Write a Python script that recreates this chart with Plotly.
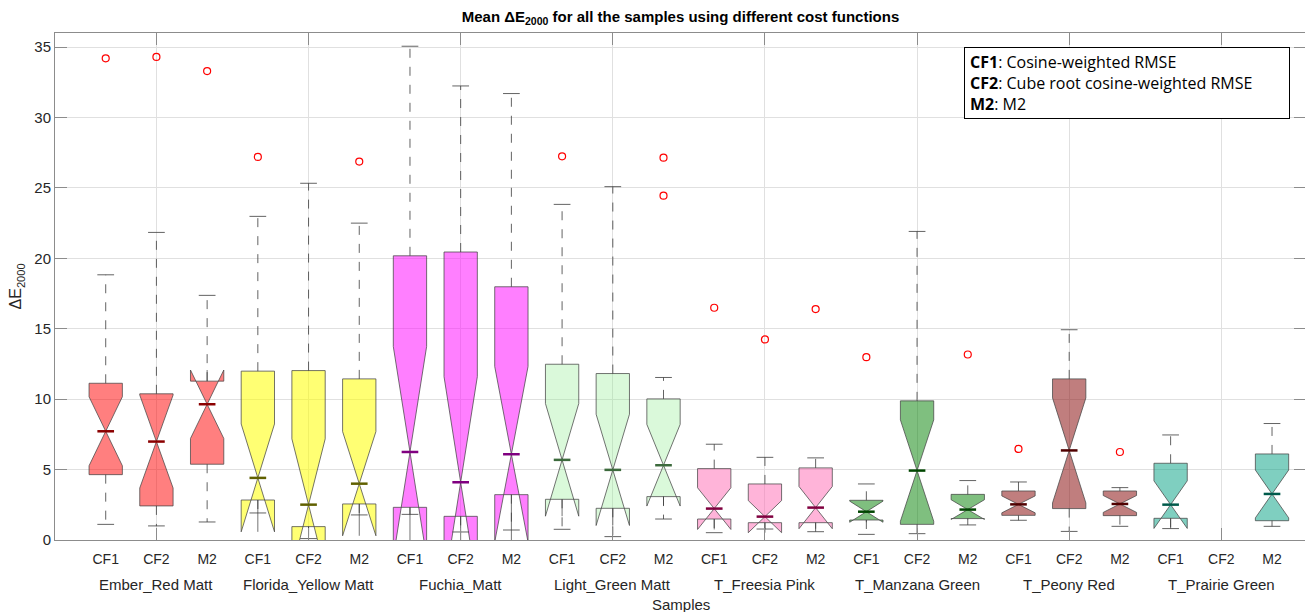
import plotly.graph_objects as go

# ---------------- data ----------------
samples = ["Ember_Red Matt", "Florida_Yellow Matt", "Fuchia_Matt", "Light_Green Matt",
           "T_Freesia Pink", "T_Manzana Green", "T_Peony Red", "T_Prairie Green"]
methods = ["CF1", "CF2", "M2"]

q1 = [4.64, 2.42, 5.38, 2.84, 0.95, 2.56, 2.32, 1.68, 3.22, 2.89, 2.25, 3.08,
      1.49, 1.23, 1.23, 1.42, 1.11, 1.52, 1.75, 2.23, 1.73, 1.54, None, 1.37]
med = [7.72, 6.99, 9.64, 4.41, 2.51, 4.00, 6.25, 4.10, 6.09, 5.69, 4.98, 5.31,
       2.23, 1.66, 2.30, 2.01, 4.93, 2.16, 2.53, 6.36, 2.56, 2.51, None, 3.27]
q3 = [11.13, 10.38, 11.28, 11.99, 12.03, 11.44, 20.18, 20.45, 17.98, 12.48, 11.82, 10.02,
      5.07, 3.98, 5.12, 2.82, 9.88, 3.24, 3.48, 11.44, 3.48, 5.45, None, 6.11]
lower_whisker = [1.11, 1.00, 1.28, 1.92, 0.10, 1.78, 1.82, 0.57, 0.71, 0.76, 0.24, 1.49,
                 0.52, 0.78, 0.59, 0.40, 0.45, 1.07, 1.40, 0.61, 0.97, 0.81, None, 0.97]
upper_whisker = [18.83, 21.84, 17.37, 22.98, 25.33, 22.50, 35.06, 32.24, 31.70, 23.83, 25.09, 11.54,
                 6.80, 5.87, 5.83, 3.98, 21.91, 4.22, 4.12, 14.93, 3.72, 7.46, None, 8.27]
notch_span = [2.45, 3.30, 2.43, 3.83, 4.67, 3.70, 7.49, 7.50, 6.23, 4.00, 3.95, 2.90,
              1.48, 1.14, 1.50, 0.75, 3.60, 0.70, 0.60, 3.73, 0.60, 1.69, None, 1.70]

outlier_pos = [1, 2, 3, 4, 6, 10, 12, 12, 13, 14, 15, 16, 18, 19, 21]
outlier_val = [34.2, 34.3, 33.3, 27.2, 26.87, 27.24, 27.15, 24.45, 16.49, 14.24, 16.4,
               12.98, 13.17, 6.47, 6.25]

fill_colors = ["rgba(255,0,0,0.5)", "rgba(255,255,0,0.55)", "rgba(255,0,255,0.5)",
               "rgba(144,238,144,0.33)", "rgba(255,105,180,0.5)", "rgba(0,128,0,0.5)",
               "rgba(140,20,20,0.55)", "rgba(0,160,130,0.5)"]
median_colors = ["#8b0000", "#606000", "#800080", "#3c6a3c", "#80003f", "#004600",
                 "#500000", "#005a4b"]

y_ticks = [0, 5, 10, 15, 20, 25, 30, 35]

# ---------------- geometry ----------------
positions = list(range(1, 25))
box_w = 0.657
notch_w = 0.5
cap_w = 0.33
group_centers = [positions[3 * g + 1] for g in range(len(samples))]

fig = go.Figure()

# boxes (drawn first so the scatter layer sits above)
for g in range(len(samples)):
    idx = [i for i in range(3 * g, 3 * g + 3) if med[i] is not None]
    fig.add_trace(go.Box(
        x=[positions[i] for i in idx],
        q1=[q1[i] for i in idx],
        median=[med[i] for i in idx],
        q3=[q3[i] for i in idx],
        lowerfence=[q1[i] for i in idx],
        upperfence=[q3[i] for i in idx],
        notchspan=[notch_span[i] for i in idx],
        notched=True, notchwidth=notch_w, width=box_w,
        whiskerwidth=0, boxpoints=False,
        fillcolor=fill_colors[g],
        line=dict(color="rgba(70,70,70,0.75)", width=1),
        showlegend=False, hoverinfo="skip",
    ))

# whiskers (dashed) and caps
wx, wy, cx, cy = [], [], [], []
for i, p in enumerate(positions):
    if med[i] is None:
        continue
    wx += [p, p, None, p, p, None]
    wy += [q3[i], upper_whisker[i], None, q1[i], lower_whisker[i], None]
    cx += [p - cap_w / 2, p + cap_w / 2, None, p - cap_w / 2, p + cap_w / 2, None]
    cy += [upper_whisker[i], upper_whisker[i], None, lower_whisker[i], lower_whisker[i], None]
fig.add_trace(go.Scatter(x=wx, y=wy, mode="lines",
                         line=dict(color="rgba(60,60,60,0.8)", width=1, dash="dash"),
                         showlegend=False, hoverinfo="skip"))
fig.add_trace(go.Scatter(x=cx, y=cy, mode="lines",
                         line=dict(color="rgba(60,60,60,0.8)", width=1),
                         showlegend=False, hoverinfo="skip"))

# medians
half_n = box_w / 2 * (1 - notch_w)
for g in range(len(samples)):
    mx, my = [], []
    for i in range(3 * g, 3 * g + 3):
        if med[i] is None:
            continue
        mx += [positions[i] - half_n, positions[i] + half_n, None]
        my += [med[i], med[i], None]
    fig.add_trace(go.Scatter(x=mx, y=my, mode="lines",
                             line=dict(color=median_colors[g], width=2.5),
                             showlegend=False, hoverinfo="skip"))

# outliers
fig.add_trace(go.Scatter(x=outlier_pos, y=outlier_val, mode="markers",
                         marker=dict(symbol="circle-open", size=7, color="red",
                                     line=dict(width=1.2, color="red")),
                         showlegend=False, hoverinfo="skip"))

# group labels
for g, name in enumerate(samples):
    fig.add_annotation(x=group_centers[g], y=-0.087, xref="x", yref="paper",
                       text=name, showarrow=False, yanchor="middle",
                       font=dict(size=15, color="#262626"))
fig.add_annotation(x=0.5, y=-0.127, xref="paper", yref="paper", text="Samples",
                   showarrow=False, yanchor="middle", font=dict(size=15, color="#262626"))

# y-axis title
fig.add_annotation(x=-0.0304, y=0.5, xref="paper", yref="paper", text="ΔE<sub>2000</sub>",
                   textangle=-90, showarrow=False, xanchor="center", yanchor="middle",
                   font=dict(size=16, color="#262626"))

# legend-like text box
fig.add_annotation(
    x=0.7266, y=0.972, xref="paper", yref="paper", xanchor="left", yanchor="top",
    text="<b>CF1</b>: Cosine-weighted RMSE<br><b>CF2</b>: Cube root cosine-weighted RMSE<br><b>M2</b>: M2",
    align="left", valign="middle", width=314, height=60,
    showarrow=False, bordercolor="black", borderwidth=1, borderpad=5,
    bgcolor="white", font=dict(family="Open Sans", size=16, color="black"),
)

axis_line = "rgb(140,140,140)"
grid = "rgb(224,224,224)"
# the page adds 8px of body margin, so the figure is 8px smaller than the window
fig.update_layout(
    width=1305, height=604,
    margin=dict(l=47, r=7, t=25, b=72),
    paper_bgcolor="white", plot_bgcolor="white",
    font=dict(family="Liberation Sans, Arial, sans-serif", color="#262626"),
    title=dict(text="<b>Mean ΔE<sub>2000</sub> for all the samples using different cost functions</b>",
               x=0.5, xref="paper", xanchor="center", y=1 - 9 / 604, yref="container",
               yanchor="middle", font=dict(size=15, color="black")),
    xaxis=dict(range=[0, 24.67], tickmode="array", tickvals=positions,
               ticktext=[methods[i % 3] for i in range(24)], ticks="",
               tickfont=dict(size=14), showgrid=False, zeroline=False,
               showline=True, linecolor=axis_line, linewidth=1, mirror="ticks",
               ticklabelstandoff=6,
               minor=dict(tickmode="array", tickvals=group_centers, ticks="inside",
                          ticklen=12, tickcolor=axis_line, showgrid=True,
                          gridcolor=grid, gridwidth=1)),
    yaxis=dict(range=[0, 36], tickmode="array", tickvals=y_ticks, ticks="inside",
               ticklen=12, tickcolor=axis_line, tickfont=dict(size=15),
               showgrid=True, gridcolor=grid, zeroline=False,
               showline=True, linecolor=axis_line, linewidth=1, mirror="ticks"),
)

fig.write_html("out.html")
